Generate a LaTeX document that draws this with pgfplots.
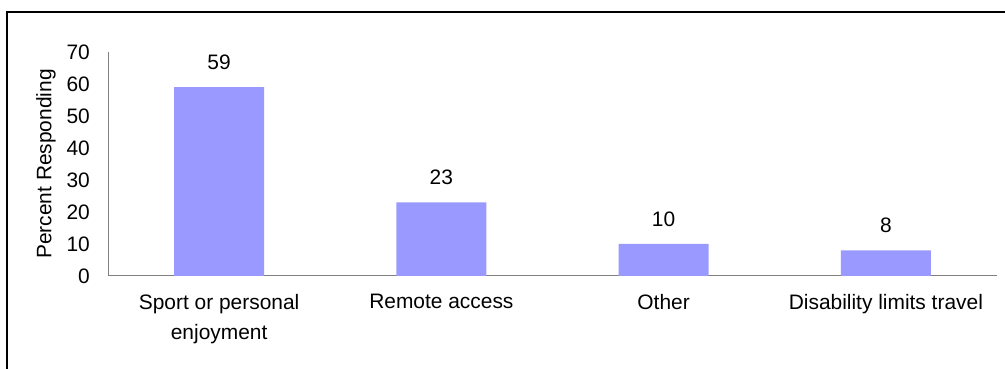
\documentclass[border=0pt]{standalone}
\usepackage{pgfplots}
\pgfplotsset{compat=1.18}
\usepackage{fontspec}
\setmainfont{Liberation Sans}
\definecolor{barblue}{HTML}{9999FF}
\definecolor{axisgray}{HTML}{808080}
\begin{document}
\begin{tikzpicture}
\useasboundingbox (0,0) rectangle (1005bp,369bp);
\draw[black, line width=1.2bp] (7bp,0) -- (7bp,357bp) -- (1005bp,357bp);
\begin{axis}[
  at={(108bp,93bp)}, anchor=south west,
  scale only axis, width=889bp, height=224bp,
  ymin=0, ymax=70, xmin=-0.5, xmax=3.5,
  ytick={0,10,...,70},
  xtick={0,1,2,3},
  xticklabels={{Sport or personal\\enjoyment},{Remote access},{Other},{Disability limits travel}},
  axis x line*=bottom, axis y line*=left,
  axis line style={draw=axisgray, line width=1bp, -},
  major tick length=0pt,
  /pgf/number format/assume math mode=true,
  ticklabel style={font=\fontsize{21}{30}\selectfont, inner sep=0pt},
  yticklabel style={xshift=-18bp},
  xticklabel style={align=center, anchor=north, yshift=-18bp},
  ylabel={Percent Responding},
  ylabel style={at={(axis description cs:-0.0697,0.5)}, anchor=center, rotate=0, font=\fontsize{21}{24}\selectfont},
  ybar, bar width=90bp,
  nodes near coords,
  every node near coord/.append style={font=\fontsize{21}{24}\selectfont, inner sep=0pt, anchor=south, yshift=17bp, text=black},
]
\addplot[fill=barblue, draw=none] coordinates {(0,59) (1,23) (2,10) (3,8)};
\end{axis}
\end{tikzpicture}
\end{document}
